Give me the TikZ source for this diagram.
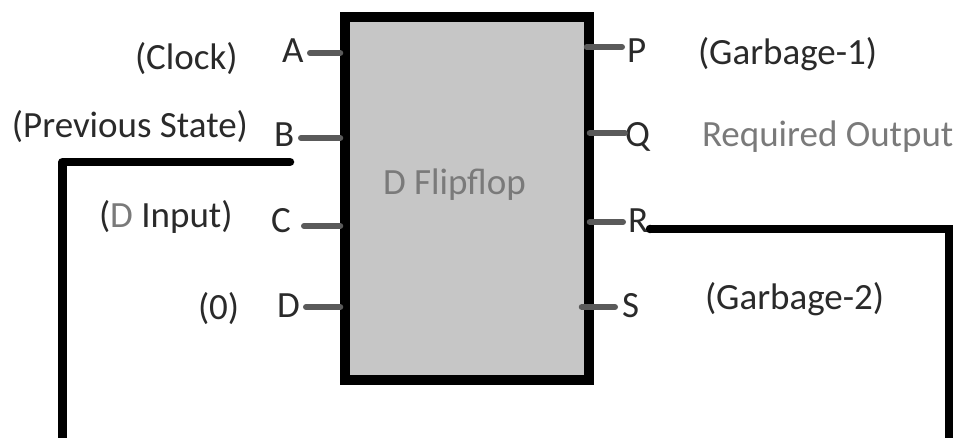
\documentclass[tikz,border=0pt]{standalone}
\usepackage{fontspec}
\setmainfont{Carlito}
\definecolor{txt}{HTML}{2A2A2A}
\definecolor{ltxt}{HTML}{7A7A7A}
\definecolor{boxfill}{HTML}{C6C6C6}
\definecolor{pingray}{HTML}{5A5A5A}
\begin{document}
\begin{tikzpicture}[x=1pt,y=-1pt,
  lbl/.style={anchor=base west,inner sep=0pt,outer sep=0pt,text=txt,font=\fontsize{37}{40}\selectfont},
  glbl/.style={lbl,text=ltxt},
  pinline/.style={draw=pingray,line width=6pt,line cap=round},
  loopline/.style={draw=black,line width=8.5pt,line cap=round,line join=round},
  blockbox/.style={draw=black,fill=boxfill,line width=9.5pt,inner sep=0pt,minimum width=244pt,minimum height=363pt}]
\useasboundingbox (0,0) rectangle (959,438);
\clip (0,0) rectangle (959,438);
% block
\node[blockbox] (box) at (467,198.5) {};
\node[glbl] (title) at (383,195) {D Flipflop};
% left labels
\node[lbl] (clock) at (135,70) {(Clock)};
\node[lbl] (prev) at (12,138) {(Previous State)};
\node[lbl] (dinp) at (99,228) {({\color{ltxt}D} Input)};
\node[lbl] (zero) at (198,320) {(0)};
\node[lbl] (A) at (282,63) {A};
\node[lbl] (B) at (274,147) {B};
\node[lbl] (C) at (271,233) {C};
\node[lbl] (D) at (277,318) {D};
% right labels
\node[lbl] (P) at (627,63) {P};
\node[lbl] (Q) at (625,147) {Q};
\node[lbl] (R) at (628,233) {R};
\node[lbl] (S) at (622,318) {S};
\node[lbl] (g1) at (698,65) {(Garbage-1)};
\node[glbl] (req) at (702,147) {Required Output};
\node[lbl] (g2) at (705,310) {(Garbage-2)};
% pin coordinates
\coordinate (pa) at (310,53);
\coordinate (pb) at (301,138);
\coordinate (pc) at (304,226);
\coordinate (pd) at (306,307);
\coordinate (pp) at (622,47);
\coordinate (pq) at (625,133);
\coordinate (pr) at (623,222);
\coordinate (ps) at (615,307);
\draw[pinline] (pa) -- (box.west |- pa);
\draw[pinline] (pb) -- (box.west |- pb);
\draw[pinline] (pc) -- (box.west |- pc);
\draw[pinline] (pd) -- (box.west |- pd);
\draw[pinline] ([xshift=-7pt]box.east |- pp) -- (pp);
\draw[pinline] ([xshift=-4pt]box.east |- pq) -- (pq);
\draw[pinline] ([xshift=-4pt]box.east |- pr) -- (pr);
\draw[pinline] ([xshift=-12pt]box.east |- ps) -- (ps);
% feedback loop
\coordinate (lstart) at (290,162);
\coordinate (lcorner) at (62.5,162);
\coordinate (lend) at (62.5,460);
\coordinate (rstart) at (650,229);
\coordinate (rcorner) at (949,229);
\coordinate (rend) at (949,460);
\draw[loopline] (lstart) -- (lcorner) -- (lend);
\draw[loopline,line cap=butt] (rstart) -- ([xshift=4pt]rcorner);
\fill (rstart) circle (4.25pt);
\draw[loopline,line cap=butt] ([yshift=-4pt]rcorner) -- (rend);
\end{tikzpicture}
\end{document}
